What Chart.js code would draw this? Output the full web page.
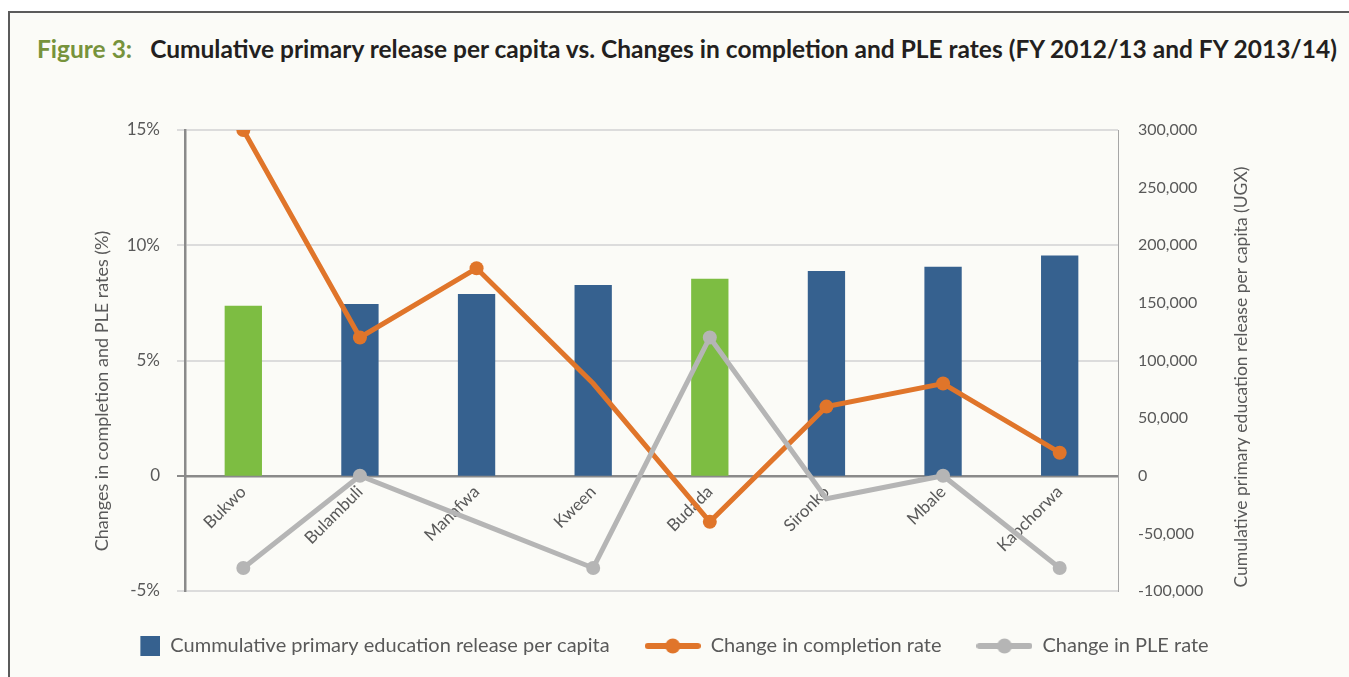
<!DOCTYPE html>
<html>
<head>
<meta charset="utf-8">
<script src="https://cdn.jsdelivr.net/npm/chart.js@4.4.1/dist/chart.umd.min.js"></script>
<style>
  html, body { margin: 0; padding: 0; background: #fff; overflow: hidden; }
  #frame {
    position: absolute; left: 8px; top: 11px; width: 1400px; height: 700px;
    border-left: 2px solid #5b5b5b; border-top: 2px solid #5b5b5b; background: #fbfbf7;
  }
  #title {
    position: absolute; left: 37px; top: 34px; white-space: nowrap;
    font: bold 24.5px Lato, sans-serif; color: #231f20;
  }
  #title span { color: #77933c; margin-right: 18px; }
  #chart { position: absolute; left: 0; top: 0; }
</style>
</head>
<body>
<div id="frame"></div>
<div id="title"><span>Figure 3:</span>Cumulative primary release per capita vs. Changes in completion and PLE rates (FY 2012/13 and FY 2013/14)</div>
<canvas id="chart" width="1349" height="677"></canvas>
<script>
const districts = ['Bukwo', 'Bulambuli', 'Manafwa', 'Kween', 'Budada', 'Sironko', 'Mbale', 'Kapchorwa'];
const releasePerCapita = [147500, 149000, 157700, 165500, 170900, 177600, 181300, 191200];
const completionChange = [15, 6, 9, 4, -2, 3, 4, 1];
const pleChange = [-4, 0, -2, -4, 6, -1, 0, -4];
const highlighted = ['Bukwo', 'Budada'];
const completionMarked = ['Bukwo', 'Bulambuli', 'Manafwa', 'Budada', 'Sironko', 'Mbale', 'Kapchorwa'];
const pleMarked = ['Bukwo', 'Bulambuli', 'Kween', 'Budada', 'Mbale', 'Kapchorwa'];

const BLUE = '#36618f', GREEN = '#7dbd42', ORANGE = '#e0752a', GREY = '#b5b5b5';
const TEXT = '#595959';
const FONT = 'Lato';

// legend icons (56px wide so every legend entry gets the same box)
function boxIcon(color) {
  const c = document.createElement('canvas');
  c.width = 56; c.height = 20;
  const g = c.getContext('2d');
  g.fillStyle = color;
  g.fillRect(36, 0, 20, 20);
  return c;
}
function lineIcon(color) {
  const c = document.createElement('canvas');
  c.width = 56; c.height = 16;
  const g = c.getContext('2d');
  g.strokeStyle = color; g.lineWidth = 6; g.lineCap = 'round';
  g.beginPath(); g.moveTo(3, 8); g.lineTo(53, 8); g.stroke();
  g.fillStyle = color;
  g.beginPath(); g.arc(28, 8, 7.5, 0, Math.PI * 2); g.fill();
  return c;
}

const axisTitles = {
  id: 'axisTitles',
  afterDraw(chart) {
    const ctx = chart.ctx;
    const draw = (text, x, y, size) => {
      ctx.save();
      ctx.fillStyle = TEXT;
      ctx.font = size + 'px ' + FONT;
      ctx.textAlign = 'center';
      ctx.textBaseline = 'middle';
      ctx.translate(x, y);
      ctx.rotate(-Math.PI / 2);
      ctx.fillText(text, 0, 0);
      ctx.restore();
    };
    draw('Changes in completion and PLE rates (%)', 102, 391, 18);
    draw('Cumulative primary education release per capita (UGX)', 1241, 377, 17.5);
  }
};

new Chart(document.getElementById('chart'), {
  type: 'bar',
  data: {
    labels: districts,
    datasets: [
      {
        type: 'bar',
        label: 'Cummulative primary education release per capita',
        data: releasePerCapita,
        yAxisID: 'y1',
        order: 3,
        backgroundColor: districts.map(d => highlighted.includes(d) ? GREEN : BLUE),
        categoryPercentage: 1,
        barPercentage: 0.32
      },
      {
        type: 'line',
        label: 'Change in completion rate',
        data: completionChange,
        yAxisID: 'y',
        order: 2,
        borderColor: ORANGE,
        backgroundColor: ORANGE,
        borderWidth: 5,
        tension: 0,
        pointRadius: districts.map(d => completionMarked.includes(d) ? 7 : 0),
        pointHoverRadius: 7,
        pointBorderWidth: 0
      },
      {
        type: 'line',
        label: 'Change in PLE rate',
        data: pleChange,
        yAxisID: 'y',
        order: 1,
        borderColor: GREY,
        backgroundColor: GREY,
        borderWidth: 5,
        tension: 0,
        pointRadius: districts.map(d => pleMarked.includes(d) ? 7 : 0),
        pointHoverRadius: 7,
        pointBorderWidth: 0
      }
    ]
  },
  options: {
    responsive: false,
    animation: false,
    layout: { padding: { top: 130, left: 0, right: 36, bottom: 11 } },
    plugins: {
      tooltip: { enabled: false },
      // empty bottom title used as a spacer between plot and legend
      title: {
        display: true, position: 'bottom', text: ' ', weight: 100,
        padding: 0, font: { size: 10, lineHeight: 1 }
      },
      legend: {
        position: 'bottom',
        weight: 1000,
        labels: {
          usePointStyle: true,
          pointStyleWidth: 56,
          padding: 35,
          color: TEXT,
          font: { family: FONT, size: 20 },
          generateLabels(chart) {
            return chart.data.datasets.map((ds, i) => ({
              text: ds.label,
              pointStyle: i === 0 ? boxIcon(BLUE) : lineIcon(i === 1 ? ORANGE : GREY),
              fontColor: TEXT,
              lineWidth: 0,
              strokeStyle: 'transparent',
              fillStyle: 'transparent',
              datasetIndex: i,
              hidden: false
            }));
          }
        }
      }
    },
    scales: {
      x: {
        position: { y: 0 },
        offset: true,
        afterFit(s) { s.height = 0; },
        grid: { display: true, color: 'transparent', drawTicks: false },
        border: { display: true, color: '#8a8a8a', width: 2.5 },
        ticks: {
          minRotation: 45, maxRotation: 45, padding: 6,
          color: TEXT, font: { family: FONT, size: 17 }
        }
      },
      y: {
        position: 'left',
        min: -5, max: 15,
        afterFit(s) { s.width = 185; },
        ticks: {
          stepSize: 5, padding: 17, color: TEXT,
          font: { family: FONT, size: 17 },
          callback: v => v === 0 ? '0' : v + '%'
        },
        grid: {
          color: ctx => ctx.tick && ctx.tick.value === 0 ? '#8a8a8a' : '#dcdcdc',
          lineWidth: 2, tickLength: 8, drawTicks: true
        },
        border: { display: true, color: '#8a8a8a', width: 2.5 }
      },
      y1: {
        position: 'right',
        min: -100000, max: 300000,
        afterFit(s) { s.width = 195; },
        ticks: {
          stepSize: 50000, padding: 20, color: TEXT,
          font: { family: FONT, size: 16 },
          callback: v => v.toLocaleString('en-US')
        },
        grid: { display: false, drawTicks: false },
        border: { display: true, color: '#a6a6a6', width: 1 }
      }
    }
  },
  plugins: [axisTitles]
});
</script>
</body>
</html>
